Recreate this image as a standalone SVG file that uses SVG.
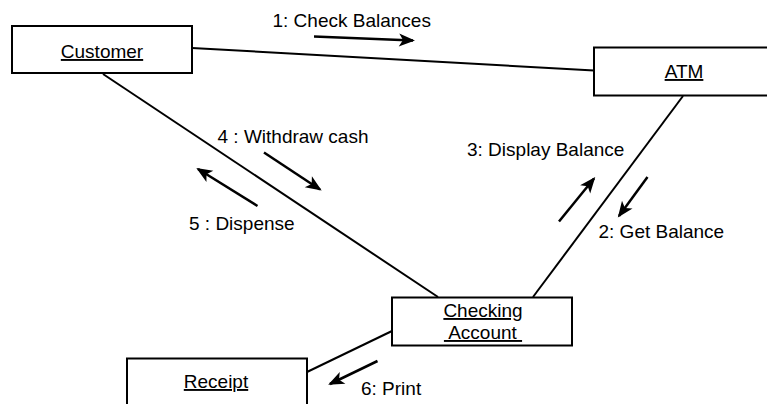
<svg xmlns="http://www.w3.org/2000/svg" width="767" height="404" viewBox="0 0 767 404">
<style>
  .box { fill: #fff; stroke: #000; stroke-width: 2; }
  .name { font-family: "Liberation Sans", Arial, sans-serif; font-size: 19px; text-anchor: middle; text-decoration: underline; fill: #000; }
  .lbl { font-family: "Liberation Sans", Arial, sans-serif; font-size: 19px; fill: #000; }
  .link { stroke: #000; stroke-width: 2; fill: none; }
  .msg { stroke: #000; stroke-width: 2.5; fill: none; marker-end: url(#ah); }
</style>
<defs>
  <marker id="ah" markerUnits="userSpaceOnUse" viewBox="-16 -8 19 16" refX="0" refY="0" markerWidth="19" markerHeight="16" orient="auto">
    <path d="M2,0 L-14,-6.5 L-10,0 L-14,6.5 Z" fill="#000"/>
  </marker>
</defs>
<rect width="767" height="404" fill="#fff"/>
<g id="connectors">
  <line class="link" x1="192" y1="48" x2="594" y2="70.5"/>
  <line class="link" x1="103" y1="74" x2="438" y2="297"/>
  <line class="link" x1="683" y1="96" x2="533" y2="297"/>
  <line class="link" x1="392" y1="331" x2="307" y2="372"/>
  <line class="msg" x1="314" y1="36.5" x2="413" y2="40.5"/>
  <text class="lbl" x="272.5" y="26.5">1: Check Balances</text>
  <line class="msg" x1="264" y1="152.5" x2="320" y2="189.5"/>
  <text class="lbl" x="217.5" y="142.5">4 : Withdraw cash</text>
  <line class="msg" x1="257.5" y1="206" x2="198" y2="169"/>
  <text class="lbl" x="189" y="230">5 : Dispense</text>
  <line class="msg" x1="559" y1="221.5" x2="594" y2="178.5"/>
  <text class="lbl" x="467" y="155.5">3: Display Balance</text>
  <line class="msg" x1="647.5" y1="177" x2="619" y2="216"/>
  <text class="lbl" x="598.5" y="237.5">2: Get Balance</text>
  <line class="msg" x1="377.5" y1="361" x2="330" y2="384"/>
  <text class="lbl" x="361" y="395">6: Print</text>
</g>
<g id="customer">
  <rect class="box" x="12" y="26" width="180" height="47"/>
  <text class="name" x="102" y="58">Customer</text>
</g>
<g id="atm">
  <rect class="box" x="594" y="47.5" width="180" height="48"/>
  <text class="name" x="684" y="78">ATM</text>
</g>
<g id="checking-account">
  <rect class="box" x="392" y="297.5" width="180" height="48"/>
  <text class="name" x="483" y="317">Checking</text>
  <text class="name" x="483" y="339" xml:space="preserve"> Account </text>
</g>
<g id="receipt">
  <rect class="box" x="127" y="358.5" width="180" height="48"/>
  <text class="name" x="216" y="388">Receipt</text>
</g>
</svg>
